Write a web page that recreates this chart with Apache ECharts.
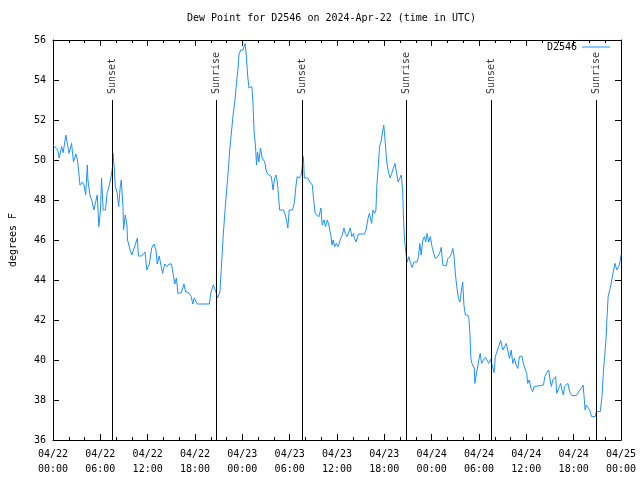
<!DOCTYPE html>
<html><head><meta charset="utf-8">
<script src="https://cdn.jsdelivr.net/npm/echarts@6/dist/echarts.min.js"></script>
<style>html,body{margin:0;padding:0;background:#fff}#c{width:640px;height:480px}</style>
</head><body><div id="c"></div>
<script>
// hours since 2024-04-22 00:00 UTC
var times = [0.00,0.59,0.79,1.09,1.29,1.63,1.84,2.04,2.35,2.60,2.89,3.10,3.30,3.42,3.73,3.93,4.14,4.35,4.43,4.68,4.98,5.18,5.39,5.61,5.81,6.02,6.15,6.36,6.65,6.86,7.15,7.40,7.53,7.61,7.78,7.90,8.12,8.32,8.53,8.66,8.87,8.94,9.16,9.37,9.45,9.78,10.00,10.20,10.54,10.70,10.83,11.25,11.67,11.88,12.21,12.51,12.80,13.05,13.21,13.46,13.67,13.89,14.17,14.46,14.71,15.02,15.22,15.43,15.64,15.84,16.27,16.60,16.81,17.10,17.31,17.52,17.72,17.90,18.31,19.82,
20.03,20.32,20.66,20.86,21.16,21.36,21.58,21.83,22.04,22.24,22.42,22.62,22.83,23.04,23.24,23.46,23.58,23.80,24.08,24.34,24.50,24.67,24.84,25.05,25.21,25.34,25.50,25.68,25.80,25.93,26.09,26.30,26.51,26.84,27.06,27.35,27.68,27.89,28.10,28.26,28.44,28.60,28.73,29.23,29.44,29.64,29.77,29.94,30.36,30.61,30.77,30.95,31.23,31.45,31.57,31.74,31.86,32.03,32.28,32.58,32.87,32.99,33.20,33.40,33.71,33.96,34.12,34.37,34.53,34.78,34.96,35.21,35.37,35.50,35.71,35.91,36.13,36.47,36.67,36.88,37.04,37.29,37.51,37.67,37.88,38.10,38.22,38.42,38.72,39.48,39.68,39.89,
40.10,40.23,40.39,40.56,40.77,40.93,41.06,41.23,41.39,41.56,41.77,41.93,42.11,42.31,42.52,42.74,42.94,43.15,43.36,43.53,43.74,43.99,44.15,44.32,44.44,44.57,44.74,44.91,45.12,45.32,45.53,45.75,46.16,46.33,46.50,46.66,46.88,47.08,47.25,47.42,47.63,47.83,48.04,48.26,48.46,48.76,49.01,49.21,49.42,49.84,50.05,50.34,50.51,50.68,50.84,51.02,51.18,51.39,51.59,51.77,51.93,52.09,52.27,52.56,52.72,52.85,52.97,53.10,53.22,53.40,53.47,53.65,53.81,53.98,54.15,54.32,54.57,54.82,55.07,55.23,55.48,55.66,55.91,56.07,56.32,56.49,56.61,56.74,56.82,57.04,57.24,57.45,57.66,57.87,58.08,58.29,58.49,58.70,58.92,59.12,59.42,59.67,59.83,
60.05,60.17,60.37,60.59,60.80,61.00,61.21,62.18,62.34,62.59,62.84,63.01,63.18,63.35,63.51,63.72,63.85,64.01,64.19,64.35,64.51,64.69,64.85,65.10,65.27,65.44,65.61,65.77,66.36,66.65,66.95,67.20,67.32,67.45,67.61,67.82,68.03,68.28,68.74,68.87,69.37,69.59,69.78,69.96,70.12,70.21,70.37,70.62,70.83,71.03,71.25,71.46,71.71,71.88,72.00];
var dewPoint = [50.75,50.5,50.1,50.67,50.37,51.25,51.17,50.33,50.83,49.9,50.3,50.0,49.25,48.75,48.9,48.75,48.25,49.75,49.0,48.25,47.9,47.5,47.6,48.25,46.67,47.5,49.1,47.5,47.5,48.33,48.75,49.25,49.6,50.33,49.5,48.67,48.4,47.67,48.67,49.0,47.67,46.5,47.25,46.75,46.0,45.5,45.25,45.5,45.9,46.1,45.2,45.2,45.4,44.5,44.8,45.6,45.8,45.5,44.8,45.2,45.17,44.33,44.8,44.67,44.8,44.8,44.33,43.8,44.1,43.33,43.37,43.8,43.4,43.4,43.4,43.17,42.8,43.1,42.8,42.8,
43.4,43.75,43.4,43.1,43.4,44.75,46.25,47.6,48.6,49.6,50.6,51.4,52.25,52.9,53.75,54.6,55.3,55.5,55.5,55.83,55.25,54.25,53.6,53.5,53.67,52.9,51.4,50.6,49.75,50.4,49.9,50.6,50.1,49.9,49.4,49.25,49.17,48.5,49.1,49.25,48.9,48.1,47.5,47.5,47.25,46.9,46.6,47.5,47.5,47.9,48.6,49.17,49.1,49.25,49.6,50.17,49.1,49.17,49.1,48.9,48.75,48.25,47.4,47.25,47.17,47.6,46.75,47.0,46.67,47.0,46.75,46.25,45.75,46.0,45.67,45.83,45.67,46.08,46.25,46.6,46.33,46.17,46.17,46.6,46.17,46.33,46.08,45.9,46.3,46.3,46.5,47.0,
47.33,47.4,46.83,47.5,47.33,47.5,48.75,49.67,50.67,50.9,51.4,51.75,50.9,49.9,49.4,49.1,49.33,49.6,49.83,49.4,48.9,48.9,49.25,48.5,47.0,46.0,45.33,44.9,45.17,44.83,44.63,44.9,44.9,45.17,45.83,45.25,46.0,46.17,45.9,46.33,45.9,46.17,45.67,45.33,45.08,45.17,45.33,45.63,44.75,44.7,45.08,45.17,45.33,45.58,45.17,44.25,43.67,43.08,42.9,43.5,43.9,42.75,42.25,42.25,42.08,41.33,40.08,39.83,39.83,39.6,38.83,39.25,39.6,40.0,40.33,39.83,40.0,40.13,40.08,39.83,40.03,39.75,39.37,40.17,40.25,40.67,40.67,40.97,41.0,40.5,40.58,40.83,40.75,40.08,40.5,39.83,40.08,39.75,39.58,40.17,40.2,39.75,39.67,
39.33,38.83,39.0,38.58,38.42,38.67,38.75,38.75,39.17,39.37,39.5,39.0,38.67,39.0,39.08,39.17,38.33,38.42,38.67,38.83,38.5,38.25,38.67,38.75,38.83,38.5,38.33,38.22,38.22,38.42,38.58,38.75,38.17,37.5,37.75,37.8,37.5,37.17,37.17,37.42,37.42,38.17,39.5,40.33,41.17,42.0,43.17,43.58,44.0,44.42,44.83,44.5,44.67,44.92,45.25];
var sunTimes = [7.53, 20.70, 31.61, 44.78, 55.57, 68.87];
var sunLabels = ['Sunset','Sunrise','Sunset','Sunrise','Sunset','Sunrise'];
var sunLineTop = 53;
var xTickLabels = ['04/22\n00:00','04/22\n06:00','04/22\n12:00','04/22\n18:00','04/23\n00:00','04/23\n06:00','04/23\n12:00','04/23\n18:00','04/24\n00:00','04/24\n06:00','04/24\n12:00','04/24\n18:00','04/25\n00:00'];
var seriesName = 'D2546';
var titleText = 'Dew Point for D2546 on 2024-Apr-22 (time in UTC)';

var FONT = 'DejaVu Sans Mono';
var data = times.map(function(t,i){return [t, dewPoint[i]];});
var sunData = sunTimes.map(function(t,i){return {value:[t, sunLineTop], name:sunLabels[i]};});
var sunLines = sunTimes.map(function(t){return [{coord:[t,36]},{coord:[t,sunLineTop]}];});

function xAx(pos, labels){
  return {type:'value', position:pos, min:0, max:72, interval:6,
    axisLine:{show:true, onZero:false, lineStyle:{color:'#000', width:1}},
    axisTick:{show:true, inside:true, length:6, lineStyle:{color:'#000'}},
    minorTick:{show:true, splitNumber:3, length:3, lineStyle:{color:'#000'}},
    splitLine:{show:false},
    axisLabel:{show:labels, margin:7, fontFamily:FONT, fontSize:10, color:'#000', lineHeight:15,
      formatter:function(v){return xTickLabels[Math.round(v/6)];}}};
}
function yAx(pos, labels){
  return {type:'value', position:pos, min:36, max:56, interval:2,
    name: labels ? 'degrees F' : '', nameLocation:'middle', nameGap:35,
    nameTextStyle:{fontFamily:FONT, fontSize:10, color:'#000'},
    axisLine:{show:true, onZero:false, lineStyle:{color:'#000', width:1}},
    axisTick:{show:true, inside:true, length:6, lineStyle:{color:'#000'}},
    splitLine:{show:false},
    axisLabel:{show:labels, margin:7, fontFamily:FONT, fontSize:10, color:'#000'}};
}

var chart = echarts.init(document.getElementById('c'), null, {renderer:'canvas'});
chart.setOption({
  animation:false,
  backgroundColor:'#fff',
  title:{text:titleText, left:182, top:8, textStyle:{fontFamily:FONT, fontSize:10, fontWeight:'normal', color:'#000'}},
  legend:{data:[{name:seriesName, icon:'rect'}], right:25, top:37, align:'right', itemWidth:28, itemHeight:1, itemGap:5,
    textStyle:{fontFamily:FONT, fontSize:10, color:'#000'}},
  grid:{left:47, right:19, top:40, bottom:40},
  xAxis:[xAx('bottom', true), xAx('top', false)],
  yAxis:[yAx('left', true), yAx('right', false)],
  series:[
    {name:seriesName, type:'line', data:data, symbol:'none', lineStyle:{color:'#1e90ff', width:1}, itemStyle:{color:'#1e90ff'}, z:3},
    {name:'sun', type:'scatter', data:sunData, symbolSize:0, z:4,
      label:{show:true, position:'top', distance:6, rotate:90, align:'left', verticalAlign:'middle',
        formatter:function(p){return p.name;}, fontFamily:FONT, fontSize:10, color:'#000'},
      markLine:{silent:true, symbol:'none', label:{show:false}, lineStyle:{color:'#000', width:1, type:'solid'}, data:sunLines}}
  ]
});
</script></body></html>
